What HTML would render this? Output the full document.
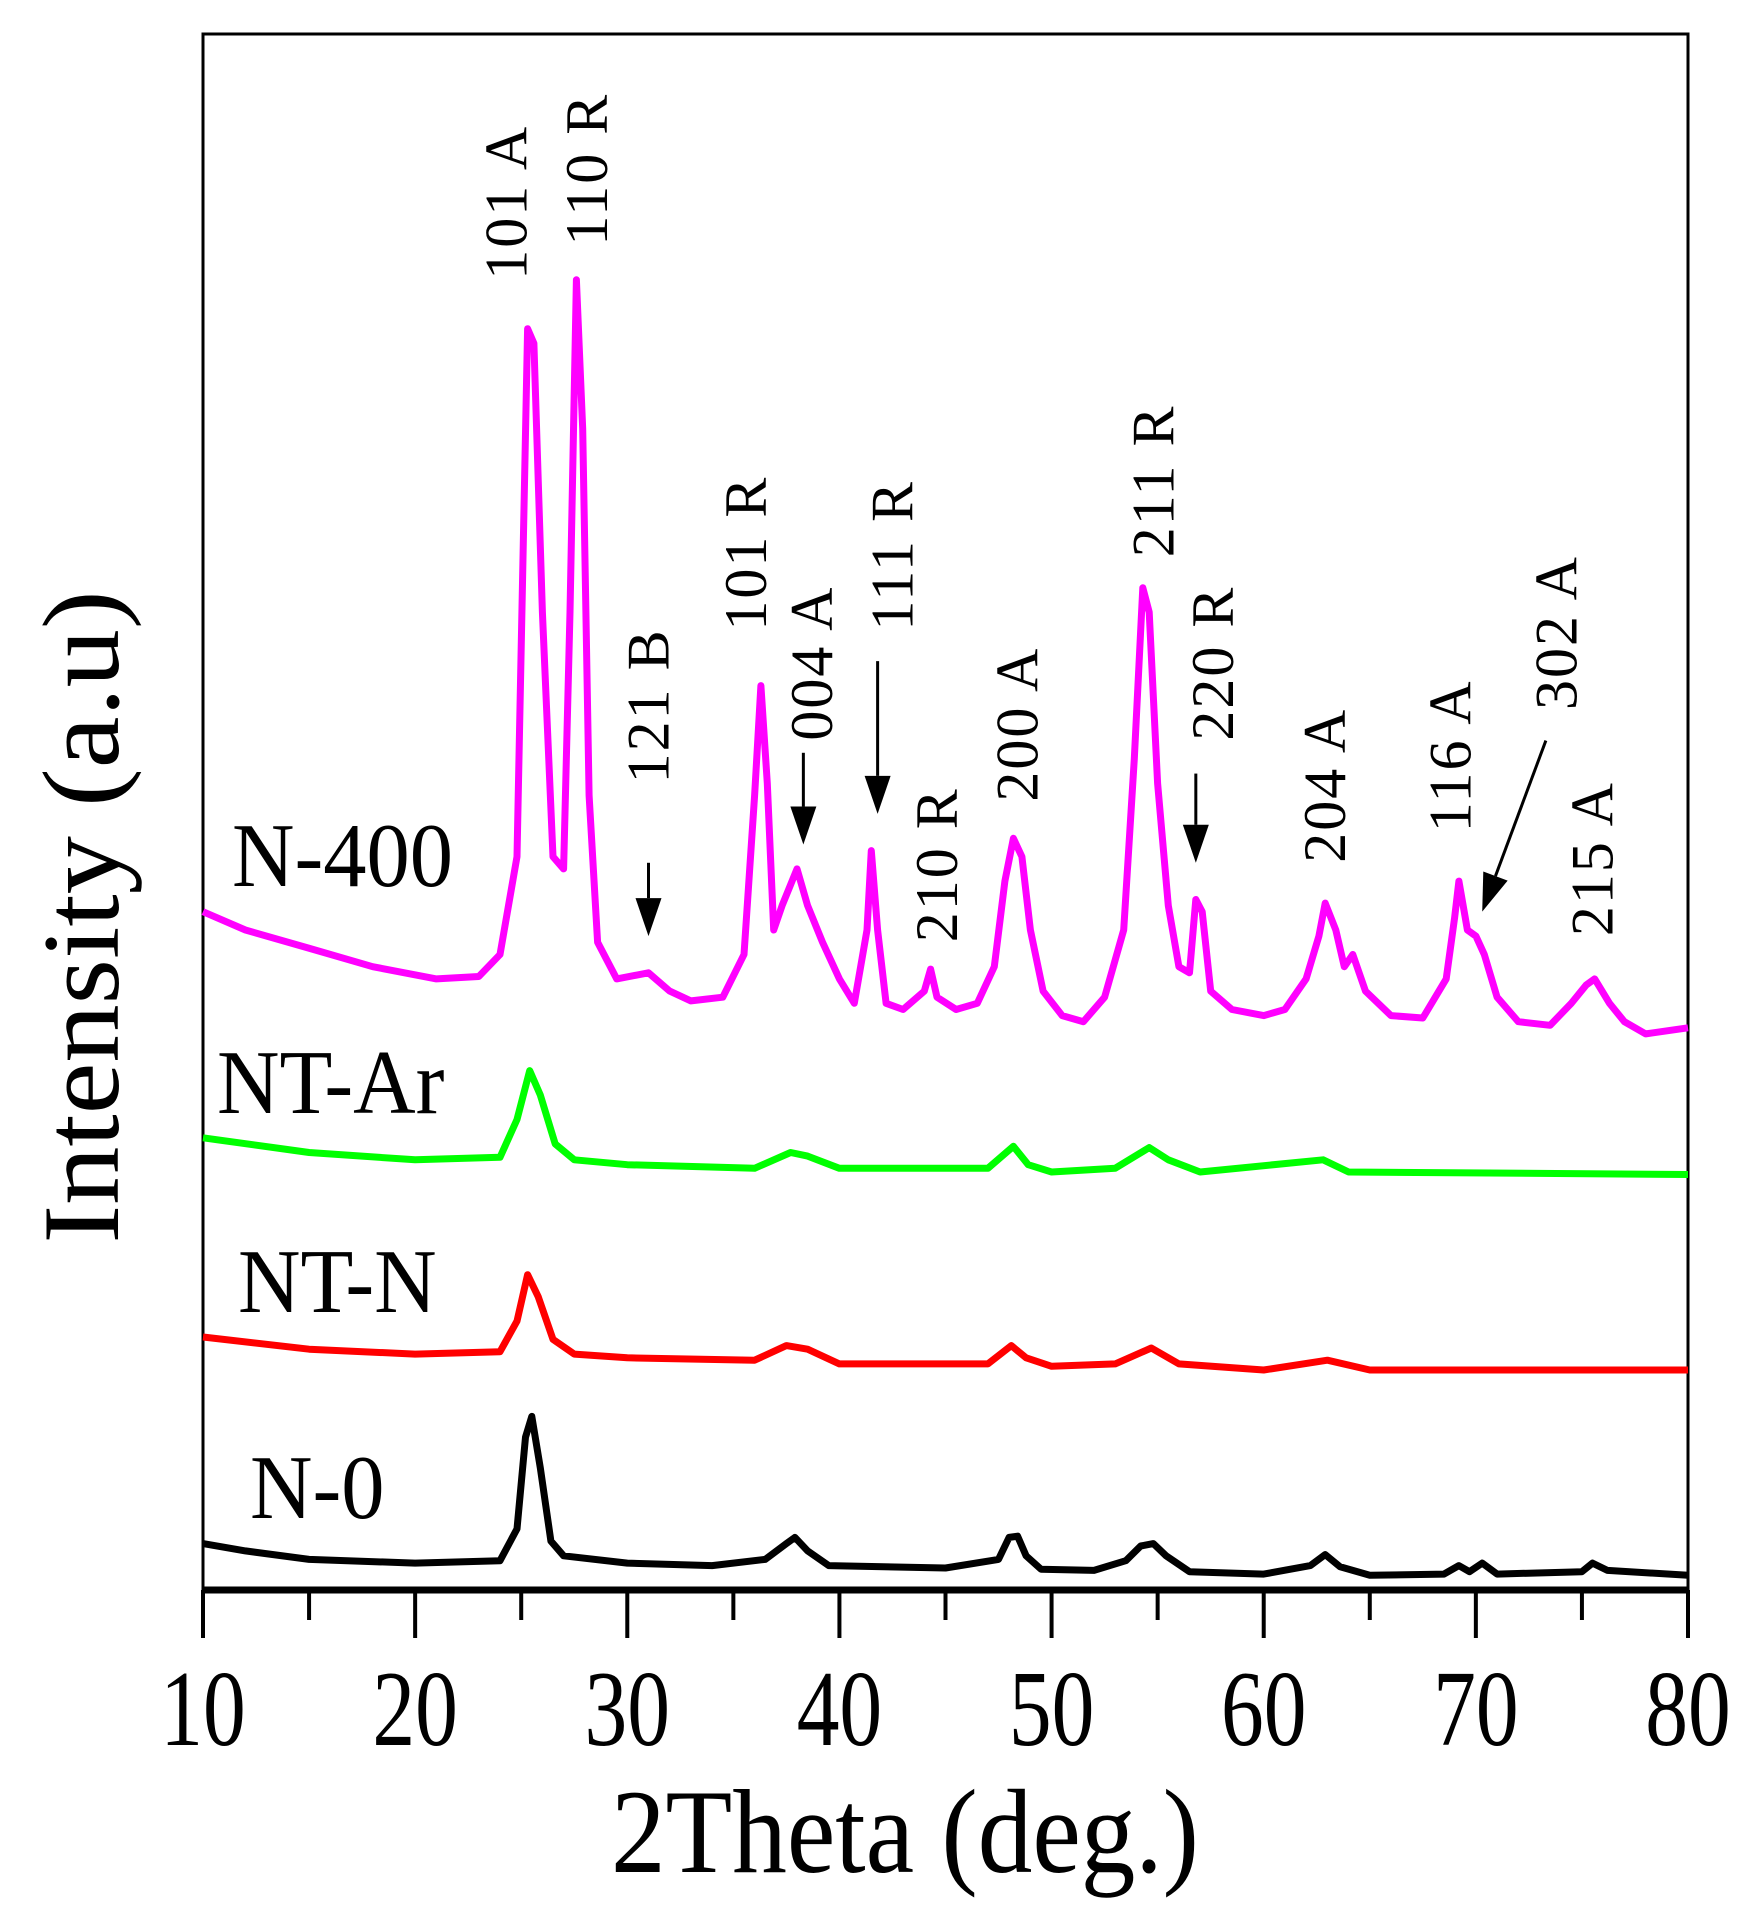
<!DOCTYPE html>
<html><head><meta charset="utf-8"><style>
html,body{margin:0;padding:0;background:#fff}
svg{display:block;font-family:"Liberation Serif",serif}
</style></head><body>
<svg id="chart" width="1760" height="1922" viewBox="0 0 1760 1922" xmlns="http://www.w3.org/2000/svg">
<rect x="0" y="0" width="1760" height="1922" fill="#fff"/>
<g id="plot"></g>
</svg>
<script>
// 2theta tick labels
const xTicks = [10,20,30,40,50,60,70,80];
// series: [2theta, intensity] (arbitrary units)
const n400Theta = [10,12,15,18,21,23,24,24.8,25.3,25.6,26,26.5,27,27.3,27.6,27.9,28.2,28.6,29.5,31,32,33,34.5,35.5,36,36.3,36.6,36.9,37.3,38,38.5,39.2,40,40.7,41.3,41.5,41.8,42.2,43,44,44.3,44.6,45.5,46.5,47.3,47.8,48.2,48.6,49,49.6,50.5,51.5,52.5,53.4,53.9,54.3,54.6,55,55.5,56,56.5,56.8,57.1,57.5,58.5,60,61,62,62.6,62.9,63.4,63.8,64.2,64.8,66,67.5,68.6,69,69.2,69.6,70,70.4,71,72,73.5,74.5,75.2,75.6,76.3,77,78,80];
const n400Int = [555,540,525,510,500,502,520,600,1032,1020,800,600,590,800,1072,950,650,530,500,505,490,482,485,520,650,740,660,540,560,590,560,530,500,480,540,605,540,480,475,490,508,485,475,480,510,580,615,600,540,490,470,465,485,540,680,820,800,660,560,510,505,565,555,490,475,470,475,500,535,562,540,510,520,490,470,468,500,550,580,540,535,520,485,465,462,480,495,500,480,465,455,460];
const n0Theta = [10,12,15,20,24,24.8,25.2,25.5,25.9,26.4,27,30,34,36.5,37.5,37.9,38.5,39.5,45,47.5,48,48.4,48.8,49.5,52,53.5,54.2,54.8,55.4,56.5,60,62.2,62.9,63.6,65,68.5,69.2,69.7,70.3,71,75,75.5,76.2,80];
const n0Int = [38,32,25,22,24,50,125,142,100,40,28,22,20,25,38,43,32,20,18,25,43,44,28,17,16,24,36,38,28,15,13,20,29,19,12,13,20,15,22,13,15,22,16,12];
const ntnTheta = [10,15,20,24,24.8,25.3,25.8,26.5,27.5,30,36,37.5,38.5,40,47,48.1,48.8,50,53,54.7,56,60,63,65,80];
const ntnInt = [207,197,193,195,220,258,240,205,193,190,188,200,197,185,185,200,190,183,185,198,185,180,188,180,180];
const ntarTheta = [10,15,20,24,24.8,25.4,25.9,26.6,27.5,30,36,37.7,38.5,40,47,48.2,48.9,50,53,54.6,55.5,57,62.8,64,80];
const ntarInt = [370,358,352,354,385,425,405,365,352,348,345,358,355,345,345,363,348,342,345,362,352,342,352,342,340];
// peak annotations
const annLabels = ["101 A","110 R","121 B","101 R","004 A","111 R","210 R","200 A","211 R","220 R","204 A","116 A","302 A","215 A"];
const annTheta = [24.3,28.1,31.0,35.6,38.7,42.5,44.6,48.4,54.8,57.6,62.9,68.8,73.8,75.5];
const annInt = [1072,1100,660,785,695,785,530,645,845,695,595,620,720,535];
// arrows: start/end in [2theta, intensity]
const arrX1 = [31.0,38.3,41.8,56.8,73.3];
const arrY1 = [595,685,760,668,695];
const arrX2 = [31.0,38.3,41.8,56.8,70.3];
const arrY2 = [535,610,635,595,555];

const L=203,R=1688,AY=1590,K=1.2222;
const sx=t=>L+(t-10)*(R-L)/70;
const sy=v=>AY-v*K;
const NS="http://www.w3.org/2000/svg";
const g=document.getElementById('plot');
function mk(tag,attrs,parent){const e=document.createElementNS(NS,tag);for(const k in attrs)e.setAttribute(k,attrs[k]);(parent||g).appendChild(e);return e;}

let fr=mk('rect',{x:L,y:34,width:R-L,height:AY-34,fill:'none',stroke:'#000','stroke-width':3});


let ax=mk('line',{x1:L,y1:AY,x2:R,y2:AY,stroke:'#000','stroke-width':7});



for(let t=10;t<=80;t+=5){
  const major=t%10===0;
  let tk=mk('line',{x1:sx(t),y1:AY,x2:sx(t),y2:AY+(major?48:30),stroke:'#000','stroke-width':4});
  
  
}
xTicks.forEach(t=>{
  let tx=mk('text',{x:0,y:0,'text-anchor':'middle','font-size':90,transform:`translate(${sx(t)},1745) scale(0.95,1.2)`});
  tx.textContent=t;
  
  
});
let xt=mk('text',{x:0,y:0,'text-anchor':'middle','font-size':104,transform:'translate(905,1872) scale(1.05,1.15)'});
xt.textContent='2Theta (deg.)';


let yt=mk('text',{x:0,y:0,'text-anchor':'middle','font-size':104,transform:'translate(118,917) rotate(-90) scale(1.12,1.05)'});
yt.textContent='Intensity (a.u)';



function series(th,iv,color,name){
  const pts=th.map((t,i)=>sx(t).toFixed(1)+','+sy(iv[i]).toFixed(1)).join(' ');
  let p=mk('polyline',{points:pts,fill:'none',stroke:color,'stroke-width':7,'stroke-linejoin':'round'});
  
  
}
series(n0Theta,n0Int,'#000','series-n-0');
series(ntnTheta,ntnInt,'#ff0000','series-nt-n');
series(ntarTheta,ntarInt,'#00ff00','series-nt-ar');
series(n400Theta,n400Int,'#ff00ff','series-n-400');

const sl=[['N-400',232,886],['NT-Ar',217,1113],['NT-N',238,1312],['N-0',250,1518]];
sl.forEach(s=>{
  let t=mk('text',{x:0,y:0,'font-size':84,transform:`translate(${s[1]},${s[2]}) scale(1.03,1.08)`});
  t.textContent=s[0];
  
  
});

annLabels.forEach((lab,i)=>{
  const x=sx(annTheta[i]),y=sy(annInt[i]);
  let t=mk('text',{x:0,y:0,'font-size':60,'letter-spacing':2,transform:`translate(${x+20},${y}) rotate(-90)`});
  t.textContent=lab;
  
  
});
arrX1.forEach((v,i)=>{
  const x1=sx(v),y1=sy(arrY1[i]),x2=sx(arrX2[i]),y2=sy(arrY2[i]);
  const a=Math.atan2(y2-y1,x2-x1),hl=38,hw=13;
  const bx=x2-hl*Math.cos(a),by=y2-hl*Math.sin(a);
  let ln=mk('line',{x1:x1,y1:y1,x2:bx,y2:by,stroke:'#000','stroke-width':3});
  
  
  const px=-Math.sin(a),py=Math.cos(a);
  let hd=mk('polygon',{points:`${x2},${y2} ${bx+px*hw},${by+py*hw} ${bx-px*hw},${by-py*hw}`,fill:'#000'});
  
  
});
</script>
</body></html>
